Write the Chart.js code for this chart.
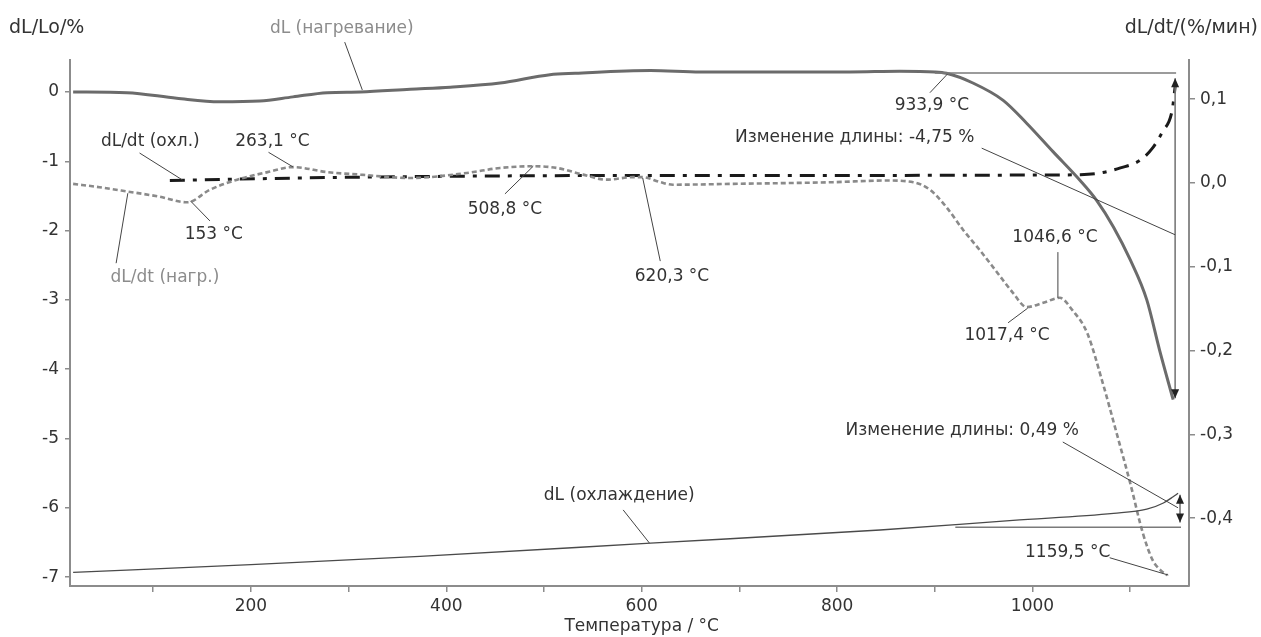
<!DOCTYPE html>
<html>
<head>
<meta charset="utf-8">
<script src="https://cdn.jsdelivr.net/npm/chart.js@4.4.0/dist/chart.umd.min.js"></script>
<style>
  html, body { margin: 0; padding: 0; background: #fff; }
</style>
</head>
<body>
<canvas id="dilChart" width="1261" height="637"></canvas>
<script>
// dL (нагревание), % — left axis
const heatT  = [18, 73, 124, 168, 209, 243, 278, 312, 363, 404, 455, 506, 532, 609, 660, 711, 813, 864, 900, 912, 939, 970, 994, 1021, 1049, 1066, 1083, 1100, 1117, 1130, 1144];
const heatDL = [0.0, -0.01, -0.09, -0.14, -0.13, -0.07, -0.01, 0.0, 0.04, 0.07, 0.13, 0.25, 0.27, 0.31, 0.29, 0.29, 0.29, 0.30, 0.29, 0.27, 0.13, -0.12, -0.45, -0.86, -1.28, -1.57, -1.95, -2.42, -3.0, -3.72, -4.44];

// dL (охлаждение), % — left axis
const coolT  = [18, 200, 373, 609, 844, 980, 1083, 1117, 1134, 1144, 1149];
const coolDL = [-6.93, -6.82, -6.70, -6.51, -6.32, -6.18, -6.08, -6.02, -5.93, -5.84, -5.79];

// dL/dt (нагр.), %/мин — right axis
const rateHeatT = [18, 45, 73, 105, 135, 158, 186, 217, 243, 278, 312, 363, 421, 455, 489, 513, 540, 564, 591, 601, 619, 632, 694, 796, 850, 878, 895, 912, 929, 946, 964, 980, 994, 1011, 1028, 1041, 1056, 1072, 1086, 1100, 1113, 1123, 1131, 1138];
const rateHeat  = [-0.001, -0.005, -0.010, -0.016, -0.023, -0.008, 0.004, 0.013, 0.019, 0.013, 0.010, 0.006, 0.012, 0.018, 0.020, 0.018, 0.010, 0.004, 0.007, 0.007, 0.001, -0.002, -0.001, 0.001, 0.003, 0.001, -0.008, -0.029, -0.056, -0.080, -0.107, -0.131, -0.148, -0.143, -0.137, -0.152, -0.179, -0.239, -0.298, -0.358, -0.418, -0.450, -0.462, -0.468];

// dL/dt (охл.), %/мин — right axis
const rateCoolT = [117, 250, 400, 600, 800, 1000, 1049, 1069, 1090, 1110, 1123, 1133, 1143, 1146];
const rateCool  = [0.003, 0.006, 0.008, 0.009, 0.009, 0.0095, 0.010, 0.012, 0.018, 0.027, 0.042, 0.061, 0.087, 0.115];

const tempTicks  = [100, 200, 300, 400, 500, 600, 700, 800, 900, 1000, 1100];
const leftTicks  = [-7, -6, -5, -4, -3, -2, -1, 0];
const rightTicks = [-0.4, -0.3, -0.2, -0.1, 0, 0.1];

const axisGray = '#8c8c8c';
const textDark = '#333333';
const textGray = '#8c8c8c';
const fontName = "'DejaVu Sans', sans-serif";

function pairs(xs, ys) {
  return xs.map((x, i) => ({ x: x, y: ys[i] }));
}

// labels: text, position, leader from -> to (temperature, dL/Lo)
const notes = [
  { text: 'dL (нагревание)', at: [293, 0.92], from: [296, 0.72], to: [314, 0.03], color: textGray },
  { text: 'dL/dt (охл.)', at: [97, -0.71], from: [86, -0.88], to: [130, -1.27] },
  { text: '263,1 °C', at: [222, -0.71], from: [218, -0.87], to: [243, -1.08] },
  { text: '153 °C', at: [162, -2.06], from: [158, -1.86], to: [138, -1.57] },
  { text: 'dL/dt (нагр.)', at: [112, -2.68], from: [62, -2.47], to: [74, -1.46], color: textGray },
  { text: '508,8 °C', at: [460, -1.69], from: [460, -1.47], to: [489, -1.07] },
  { text: '620,3 °C', at: [631, -2.66], from: [619, -2.44], to: [601, -1.24] },
  { text: 'Изменение длины: -4,75 %', at: [818, -0.66], from: [948, -0.81], to: [1146, -2.06] },
  { text: '933,9 °C', at: [897, -0.19], from: [895, -0.01], to: [913, 0.26] },
  { text: '1046,6 °C', at: [1023, -2.10], from: [1026, -2.31], to: [1026, -2.97] },
  { text: '1017,4 °C', at: [974, -3.51], from: [975, -3.33], to: [995, -3.12] },
  { text: 'Изменение длины: 0,49 %', at: [928, -4.88], from: [1031, -5.05], to: [1149, -6.00] },
  { text: '1159,5 °C', at: [1036, -6.65], from: [1079, -6.72], to: [1139, -6.97] },
  { text: 'dL (охлаждение)', at: [577, -5.82], from: [581, -6.03], to: [608, -6.51] }
];

// reference lines and double arrows for the length change
const guides = [
  [[900, 0.274], [1147, 0.274]],
  [[921, -6.28], [1152, -6.28]]
];
const arrows = [
  [1146, 0.20, -4.42],
  [1151, -5.81, -6.21]
];

const overlay = {
  id: 'overlay',
  afterDatasetsDraw(chart) {
    const ctx = chart.ctx;
    const sx = chart.scales.x, sy = chart.scales.y;
    const X = t => sx.getPixelForValue(t);
    const Y = v => sy.getPixelForValue(v);
    ctx.save();

    ctx.strokeStyle = '#7a7a7a';
    ctx.lineWidth = 1.6;
    guides.forEach(g => {
      ctx.beginPath();
      ctx.moveTo(X(g[0][0]), Y(g[0][1]));
      ctx.lineTo(X(g[1][0]), Y(g[1][1]));
      ctx.stroke();
    });

    arrows.forEach(a => {
      const x = X(a[0]), y1 = Y(a[1]), y2 = Y(a[2]);
      ctx.strokeStyle = '#7a7a7a';
      ctx.lineWidth = 1.6;
      ctx.beginPath();
      ctx.moveTo(x, y1);
      ctx.lineTo(x, y2);
      ctx.stroke();
      ctx.fillStyle = '#222';
      ctx.beginPath();
      ctx.moveTo(x, y1); ctx.lineTo(x - 4, y1 + 9); ctx.lineTo(x + 4, y1 + 9); ctx.closePath();
      ctx.fill();
      ctx.beginPath();
      ctx.moveTo(x, y2); ctx.lineTo(x - 4, y2 - 9); ctx.lineTo(x + 4, y2 - 9); ctx.closePath();
      ctx.fill();
    });

    ctx.strokeStyle = '#444';
    ctx.lineWidth = 1;
    notes.forEach(n => {
      ctx.beginPath();
      ctx.moveTo(X(n.from[0]), Y(n.from[1]));
      ctx.lineTo(X(n.to[0]), Y(n.to[1]));
      ctx.stroke();
    });

    ctx.font = '17px ' + fontName;
    ctx.textAlign = 'center';
    ctx.textBaseline = 'middle';
    notes.forEach(n => {
      ctx.fillStyle = n.color || textDark;
      ctx.fillText(n.text, X(n.at[0]), Y(n.at[1]));
    });

    // axis titles
    ctx.fillStyle = textDark;
    ctx.font = '19px ' + fontName;
    ctx.textAlign = 'left';
    ctx.fillText('dL/Lo/%', 9, 28);
    ctx.textAlign = 'right';
    ctx.fillText('dL/dt/(%/мин)', 1258, 28);
    ctx.textAlign = 'center';
    ctx.font = '17px ' + fontName;
    ctx.fillText('Температура / °C', X(600), 627);
    ctx.restore();
  }
};

const ctx = document.getElementById('dilChart');
const dilChart = new Chart(ctx, {
  type: 'line',
  data: {
    datasets: [{
      label: 'dL (нагревание)',
      data: pairs(heatT, heatDL),
      yAxisID: 'y',
      borderColor: '#6b6b6b',
      borderWidth: 3,
      pointRadius: 0,
      cubicInterpolationMode: 'monotone'
    }, {
      label: 'dL (охлаждение)',
      data: pairs(coolT, coolDL),
      yAxisID: 'y',
      borderColor: '#4a4a4a',
      borderWidth: 1.3,
      pointRadius: 0,
      cubicInterpolationMode: 'monotone'
    }, {
      label: 'dL/dt (нагр.)',
      data: pairs(rateHeatT, rateHeat),
      yAxisID: 'y2',
      borderColor: '#8a8a8a',
      borderWidth: 2.6,
      borderDash: [5, 3],
      pointRadius: 0,
      cubicInterpolationMode: 'monotone'
    }, {
      label: 'dL/dt (охл.)',
      data: pairs(rateCoolT, rateCool),
      yAxisID: 'y2',
      borderColor: '#1a1a1a',
      borderWidth: 3,
      borderDash: [15, 8, 4, 8],
      pointRadius: 0,
      cubicInterpolationMode: 'monotone'
    }]
  },
  options: {
    responsive: false,
    animation: false,
    layout: { padding: { top: 60, left: 0, right: 0, bottom: 0 } },
    plugins: {
      legend: { display: false },
      tooltip: { enabled: false }
    },
    scales: {
      x: {
        type: 'linear',
        min: 14.8,
        max: 1160.2,
        afterBuildTicks: s => { s.ticks = tempTicks.map(v => ({ value: v })); },
        afterFit: s => { s.height = 51; },
        ticks: {
          autoSkip: false,
          maxRotation: 0,
          padding: 4,
          color: textDark,
          font: { family: fontName, size: 17 },
          callback: v => (v % 200 === 0 ? String(v) : '')
        },
        grid: { drawOnChartArea: false, tickLength: 6, color: axisGray, lineWidth: 1.5 },
        border: { color: axisGray, width: 2 }
      },
      y: {
        position: 'left',
        min: -7.128,
        max: 0.462,
        afterBuildTicks: s => { s.ticks = leftTicks.map(v => ({ value: v })); },
        afterFit: s => { s.width = 70; },
        ticks: {
          padding: 6,
          color: textDark,
          font: { family: fontName, size: 17 },
          callback: v => String(v)
        },
        grid: { drawOnChartArea: false, tickLength: 5, color: axisGray, lineWidth: 1.5 },
        border: { color: axisGray, width: 2 }
      },
      y2: {
        position: 'right',
        min: -0.4809,
        max: 0.1468,
        afterBuildTicks: s => { s.ticks = rightTicks.map(v => ({ value: v })); },
        afterFit: s => { s.width = 72; },
        ticks: {
          padding: 5,
          color: textDark,
          font: { family: fontName, size: 17 },
          callback: v => v.toFixed(1).replace('.', ',')
        },
        grid: { drawOnChartArea: false, tickLength: 6, color: axisGray, lineWidth: 1.5 },
        border: { color: axisGray, width: 2 }
      }
    }
  },
  plugins: [overlay]
});
</script>
</body>
</html>
